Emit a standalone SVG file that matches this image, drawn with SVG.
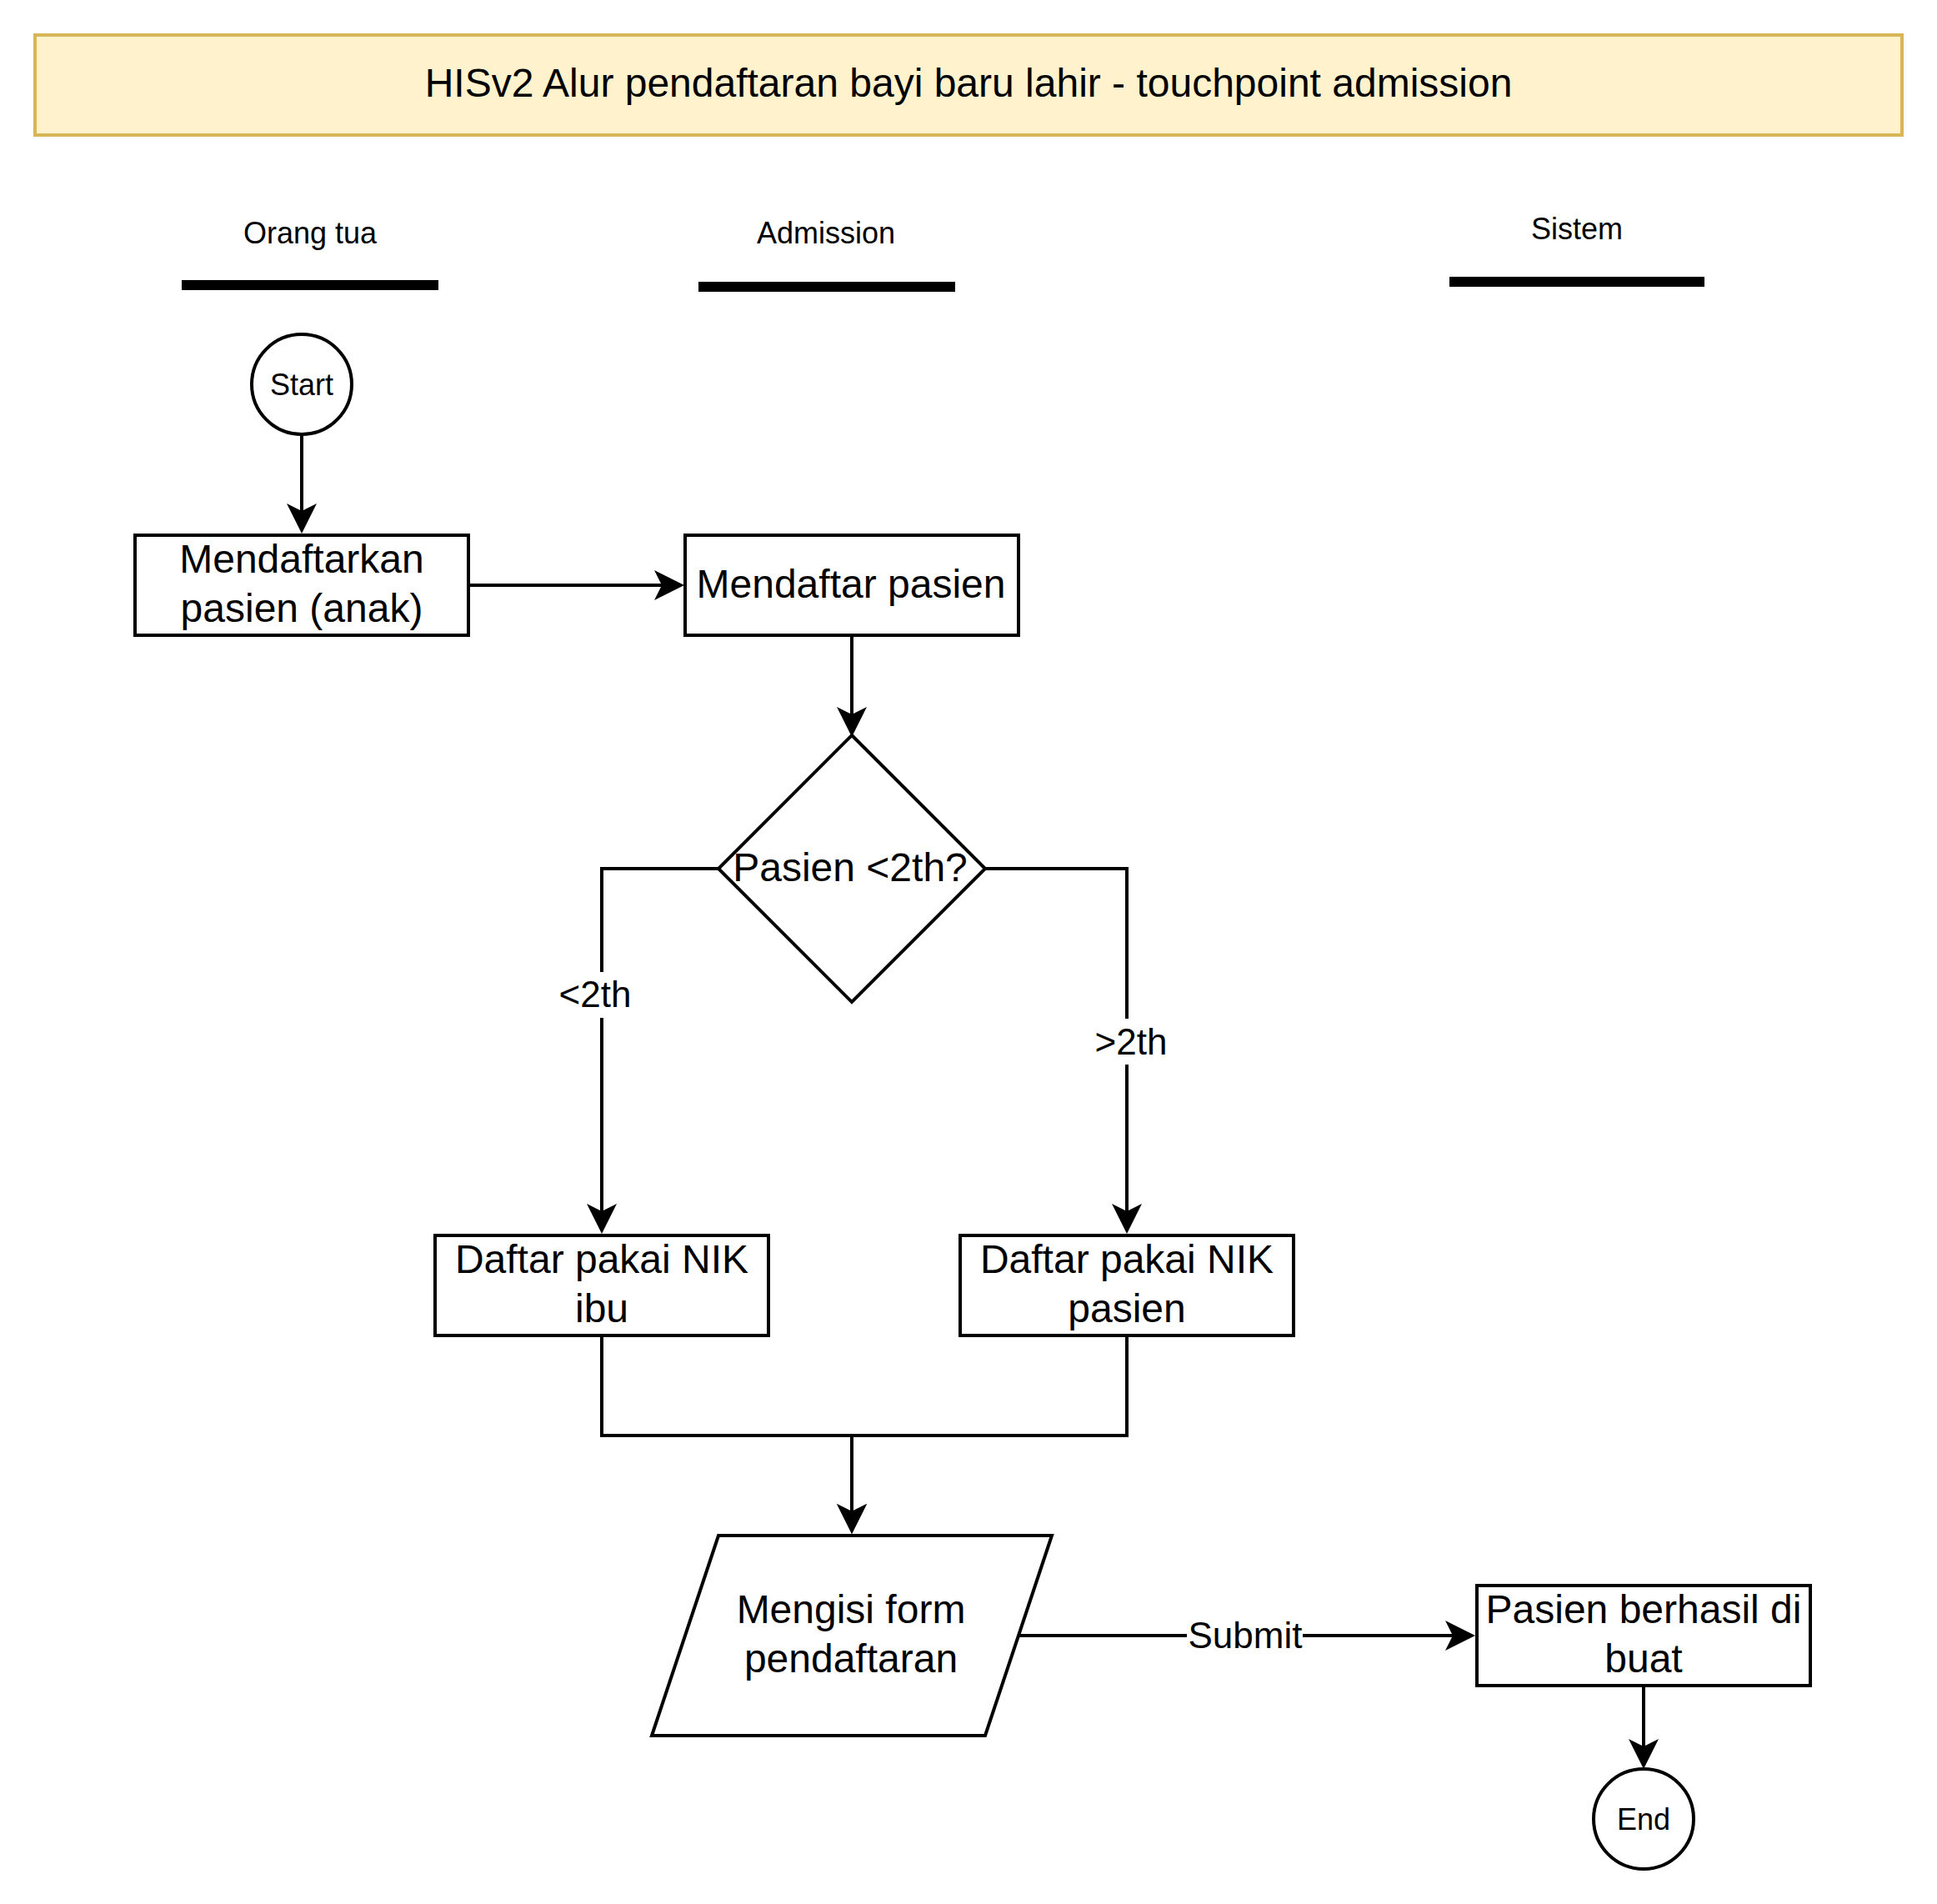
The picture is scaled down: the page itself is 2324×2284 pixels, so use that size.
<svg xmlns="http://www.w3.org/2000/svg" width="2324" height="2284" viewBox="0 0 2324 2284">
  <style>
    text { font-family: "Liberation Sans", Arial, Helvetica, sans-serif; fill: #000000; text-anchor: middle; }
    .big { font-size: 48px; }
    .mid { font-size: 36px; }
    .lbl { font-size: 44px; }
    .shape { fill: #ffffff; stroke: #000000; stroke-width: 4; }
    .edge { fill: none; stroke: #000000; stroke-width: 4; }
    .lane { stroke: #000000; stroke-width: 12; }
  </style>
  <defs>
    <marker id="arrow" markerUnits="userSpaceOnUse" viewBox="0 -20 40 40" markerWidth="40" markerHeight="40" refX="28" refY="0" orient="auto">
      <path d="M36,0 L0,-18 L9,0 L0,18 Z" fill="#000000"/>
    </marker>
  </defs>
  <rect x="0" y="0" width="2324" height="2284" fill="#ffffff"/>

  <g id="title">
    <rect x="42" y="42" width="2240" height="120" fill="#fff2cc" stroke="#d6b656" stroke-width="4"/>
    <text class="big" x="1162" y="116">HISv2 Alur pendaftaran bayi baru lahir - touchpoint admission</text>
  </g>

  <g id="lane-orang-tua">
    <text class="mid" x="372" y="292">Orang tua</text>
    <line class="lane" x1="218" y1="342" x2="526" y2="342"/>
  </g>
  <g id="lane-admission">
    <text class="mid" x="991" y="292">Admission</text>
    <line class="lane" x1="838" y1="344" x2="1146" y2="344"/>
  </g>
  <g id="lane-sistem">
    <text class="mid" x="1892" y="287">Sistem</text>
    <line class="lane" x1="1739" y1="338" x2="2045" y2="338"/>
  </g>

  <g id="connectors">
    <path class="edge" d="M362,521 L362,632" marker-end="url(#arrow)"/>
    <path class="edge" d="M562,702 L813,702" marker-end="url(#arrow)"/>
    <path class="edge" d="M1022,762 L1022,876" marker-end="url(#arrow)"/>
    <path class="edge" d="M862,1042 L722,1042 L722,1472" marker-end="url(#arrow)"/>
    <path class="edge" d="M1182,1042 L1352,1042 L1352,1472" marker-end="url(#arrow)"/>
    <path class="edge" d="M722,1602 L722,1722 L1022,1722 L1022,1832" marker-end="url(#arrow)"/>
    <path class="edge" d="M1352,1602 L1352,1722 L1022,1722 L1022,1832" marker-end="url(#arrow)"/>
    <path class="edge" d="M1222,1962 L1762,1962" marker-end="url(#arrow)"/>
    <path class="edge" d="M1972,2022 L1972,2114" marker-end="url(#arrow)"/>
    <g id="label-lt2th">
      <rect x="670" y="1166" width="88" height="55" fill="#ffffff"/>
      <text class="lbl" x="714" y="1208">&lt;2th</text>
    </g>
    <g id="label-gt2th">
      <rect x="1312" y="1222" width="90" height="55" fill="#ffffff"/>
      <text class="lbl" x="1357" y="1265">&gt;2th</text>
    </g>
    <g id="label-submit">
      <rect x="1424" y="1935" width="139" height="55" fill="#ffffff"/>
      <text class="lbl" x="1494" y="1977">Submit</text>
    </g>
  </g>

  <g id="start">
    <circle class="shape" cx="362" cy="461" r="60"/>
    <text class="mid" x="362" y="474">Start</text>
  </g>

  <g id="mendaftarkan-pasien-anak">
    <rect class="shape" x="162" y="642" width="400" height="120"/>
    <text class="big" x="362" y="687">Mendaftarkan</text>
    <text class="big" x="362" y="746">pasien (anak)</text>
  </g>

  <g id="mendaftar-pasien">
    <rect class="shape" x="822" y="642" width="400" height="120"/>
    <text class="big" x="1021" y="717">Mendaftar pasien</text>
  </g>

  <g id="pasien-lt-2th">
    <polygon class="shape" points="1022,882 1182,1042 1022,1202 862,1042"/>
    <text class="big" x="1020" y="1057">Pasien &lt;2th?</text>
  </g>

  <g id="daftar-nik-ibu">
    <rect class="shape" x="522" y="1482" width="400" height="120"/>
    <text class="big" x="722" y="1527">Daftar pakai NIK</text>
    <text class="big" x="722" y="1586">ibu</text>
  </g>

  <g id="daftar-nik-pasien">
    <rect class="shape" x="1152" y="1482" width="400" height="120"/>
    <text class="big" x="1352" y="1527">Daftar pakai NIK</text>
    <text class="big" x="1352" y="1586">pasien</text>
  </g>

  <g id="mengisi-form">
    <polygon class="shape" points="862,1842 1262,1842 1182,2082 782,2082"/>
    <text class="big" x="1021" y="1947">Mengisi form</text>
    <text class="big" x="1021" y="2006">pendaftaran</text>
  </g>

  <g id="pasien-berhasil">
    <rect class="shape" x="1772" y="1902" width="400" height="120"/>
    <text class="big" x="1972" y="1947">Pasien berhasil di</text>
    <text class="big" x="1972" y="2006">buat</text>
  </g>

  <g id="end">
    <circle class="shape" cx="1972" cy="2182" r="60"/>
    <text class="mid" x="1972" y="2195">End</text>
  </g>
</svg>
